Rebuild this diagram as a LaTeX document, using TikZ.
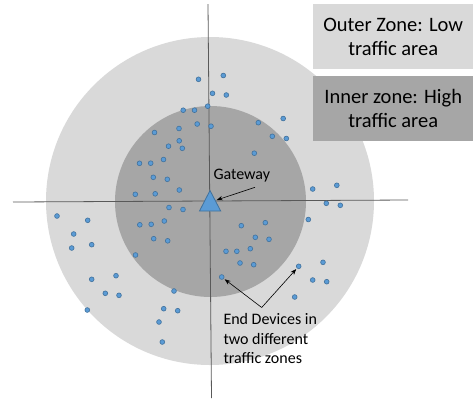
\documentclass[tikz,border=0pt]{standalone}
\usepackage{fontspec}
\setmainfont{Carlito}
\usetikzlibrary{arrows.meta}
\definecolor{outerzone}{HTML}{D9D9D9}
\definecolor{innerzone}{HTML}{A6A6A6}
\definecolor{devfill}{HTML}{5B9BD5}
\definecolor{devline}{HTML}{41719C}
\definecolor{axiscol}{HTML}{595959}
\tikzset{
  dev/.style={circle, fill=devfill, draw=devline, line width=0.6pt, inner sep=0pt, minimum size=4.8pt},
  axisline/.style={draw=axiscol, line width=0.8pt},
  legendbox/.style={anchor=north west, inner sep=0pt, minimum width=160pt, minimum height=65pt, align=center, font=\fontsize{20.5}{23.5}\selectfont},
  callout/.style={-{Stealth[length=6pt,width=4.5pt]}, line width=0.6pt, black},
  lbl/.style={inner sep=0pt, align=left, font=\fontsize{16}{19.3}\selectfont}
}
\begin{document}
\begin{tikzpicture}[x=1pt,y=-1pt]
\useasboundingbox (0,0) rectangle (473,400);
% zones
\fill[outerzone] (210,201) circle (164);
\fill[innerzone] (210.5,201.5) circle (95.5);
% axes
\coordinate (vtop) at (208,4);
\coordinate (vbot) at (211.5,398);
\coordinate (hleft) at (13,202);
\coordinate (hright) at (408,200);
\draw[axisline] (vtop) -- (vbot);
\draw[axisline] (hleft) -- (hright);
% legend
\node[legendbox, fill=outerzone] (outerleg) at (313,4) {Outer Zone: Low\\traffic area};
\node[legendbox, fill=innerzone] (innerleg) at (313,76) {Inner zone: High\\traffic area};
% end devices
\foreach \px/\py [count=\i] in {
198.5/79.3, 223.3/75.5, 212.5/93.3, 226.3/95, 207.7/106.2, 183.2/110.2, 194.5/110.2,
197.2/124, 211/126.2, 179/128.5, 154.5/132.5, 179.2/140.8, 168.5/146.2, 182.3/148.3,
163.5/159.5, 139.5/163.3, 150.7/163.2, 153.3/177.3, 167.3/179.3, 179.3/190, 135.3/194.3,
155.2/193.8, 169/207.5, 183/209.5, 139.8/224.8, 151.2/224.3, 164.3/221, 153.7/238.7,
167.7/240.8, 135.5/255, 258.3/122.7, 283.2/118.5, 272.3/136.3, 286.3/138.5, 254.3/153.2,
312.7/189, 336.8/185.3, 326.3/203.3, 340.3/205.3, 308.3/219.5, 241.3/225.7, 265.3/222.7,
255.3/237.3, 269/239.3, 226/251.3, 236.8/251.3, 250.3/248.7, 240/263, 253.7/264.7,
221.7/277, 298.7/266.3, 323/262.3, 312.7/280, 326.7/281.7, 294.7/297, 57/216, 87.7/220.3,
73.7/234, 71.7/248, 91.7/244.7, 91.7/279.3, 116/275.7, 105.3/293.3, 119/295.3, 87.3/310,
174/291, 163.7/308.7, 177.7/310.7, 159/322, 162.3/342}
  \node[dev] (d\i) at (\px,\py) {};
% gateway
\draw[fill=devfill, draw=devline, line width=0.8pt] (210,190.5) -- (220.7,211) -- (199.5,211) -- cycle;
\coordinate (gwtip) at (216.7,200);
\node[lbl, anchor=base west] (gwlabel) at (213.3,179) {Gateway};
\coordinate (gwfrom) at (255,187.3);
\draw[callout] (gwfrom) -- (gwtip);
% end devices label (base anchor = baseline of last line)
\node[lbl, anchor=base west] (edlabel) at (223.3,363.3) {End Devices in\\two different\\traffic zones};
\coordinate (split) at (261.7,307.5);
\draw[callout, shorten >=1pt] (split) -- (d50);
\draw[callout, shorten >=1pt] (split) -- (d51);
\end{tikzpicture}
\end{document}
